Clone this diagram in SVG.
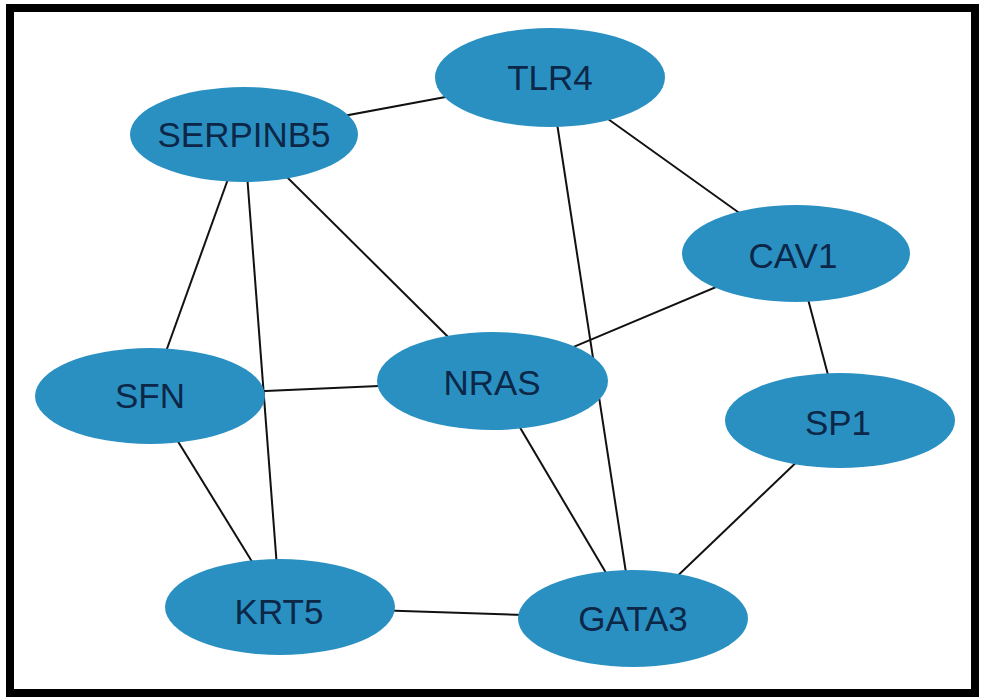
<svg xmlns="http://www.w3.org/2000/svg" width="983" height="697" viewBox="0 0 983 697">
  <style>
    .edge { stroke: #111; stroke-width: 2; fill: none; }
    .node ellipse { fill: #2A90C2; }
    .node text { font-family: "Liberation Sans", Arial, sans-serif; font-size: 35px; fill: #0C2747; text-anchor: middle; }
  </style>
  <rect x="0" y="0" width="983" height="697" fill="#ffffff"/>
  <rect x="10" y="8" width="965" height="685" fill="none" stroke="#000" stroke-width="8"/>
  <g id="edges">
    <line class="edge" x1="244" y1="134.5" x2="550" y2="77.5"/>
    <line class="edge" x1="550" y1="77.5" x2="796" y2="253.5"/>
    <line class="edge" x1="550" y1="77.5" x2="633" y2="618.5"/>
    <line class="edge" x1="244" y1="134.5" x2="150" y2="396"/>
    <line class="edge" x1="244" y1="134.5" x2="280" y2="607"/>
    <line class="edge" x1="244" y1="134.5" x2="492.5" y2="381"/>
    <line class="edge" x1="150" y1="396" x2="492.5" y2="381"/>
    <line class="edge" x1="150" y1="396" x2="280" y2="607"/>
    <line class="edge" x1="796" y1="253.5" x2="492.5" y2="381"/>
    <line class="edge" x1="796" y1="253.5" x2="840" y2="420.5"/>
    <line class="edge" x1="492.5" y1="381" x2="633" y2="618.5"/>
    <line class="edge" x1="840" y1="420.5" x2="633" y2="618.5"/>
    <line class="edge" x1="280" y1="607" x2="633" y2="618.5"/>
  </g>
  <g id="TLR4" class="node"><ellipse cx="550" cy="77.5" rx="115" ry="49.5"/><text x="550" y="90">TLR4</text></g>
  <g id="SERPINB5" class="node"><ellipse cx="244" cy="134.5" rx="114" ry="47.5"/><text x="244" y="147">SERPINB5</text></g>
  <g id="CAV1" class="node"><ellipse cx="796" cy="253.5" rx="114" ry="48.5"/><text x="793" y="268">CAV1</text></g>
  <g id="NRAS" class="node"><ellipse cx="492.5" cy="381" rx="115.5" ry="49"/><text x="492" y="395">NRAS</text></g>
  <g id="SFN" class="node"><ellipse cx="150" cy="396" rx="115" ry="48"/><text x="150" y="408">SFN</text></g>
  <g id="SP1" class="node"><ellipse cx="840" cy="420.5" rx="115" ry="47.5"/><text x="838" y="435">SP1</text></g>
  <g id="KRT5" class="node"><ellipse cx="280" cy="607" rx="115" ry="48"/><text x="279" y="624">KRT5</text></g>
  <g id="GATA3" class="node"><ellipse cx="633" cy="618.5" rx="115" ry="48.5"/><text x="633" y="631">GATA3</text></g>
</svg>
